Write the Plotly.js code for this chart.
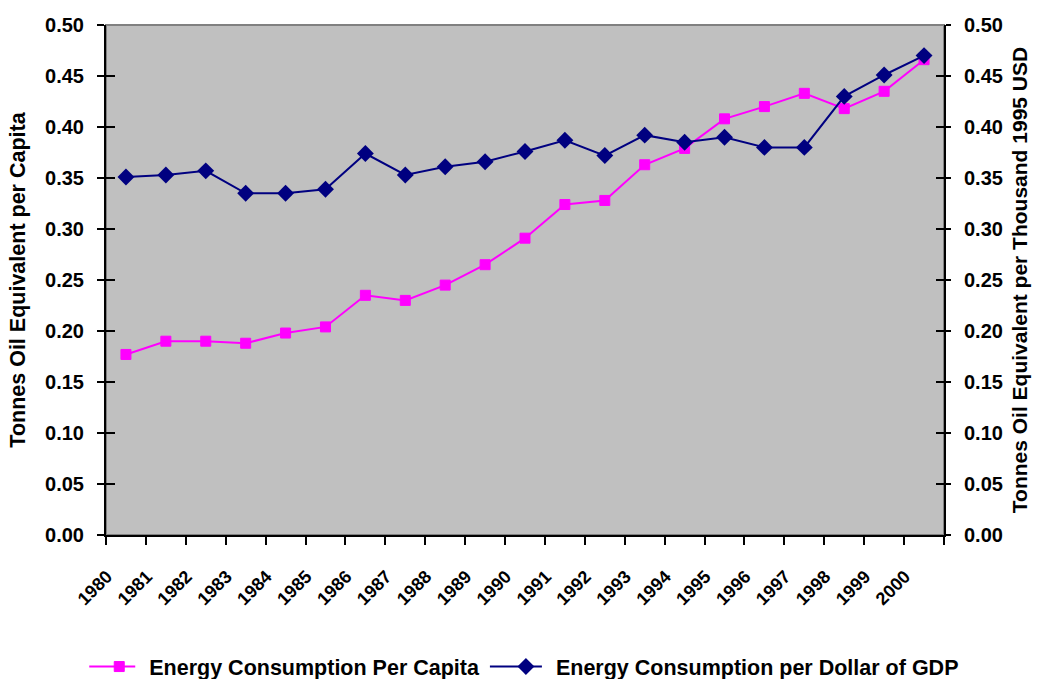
<!DOCTYPE html>
<html>
<head>
<meta charset="utf-8">
<script src="https://cdn.plot.ly/plotly-3.0.1.min.js"></script>
<style>html,body{margin:0;padding:0;background:#fff;}#chart{width:1042px;height:679px;}</style>
</head>
<body>
<div id="chart"></div>
<script>
const years = ["1980","1981","1982","1983","1984","1985","1986","1987","1988","1989","1990","1991","1992","1993","1994","1995","1996","1997","1998","1999","2000"];
const perCapita = [0.177,0.190,0.190,0.188,0.198,0.204,0.235,0.230,0.245,0.265,0.291,0.324,0.328,0.363,0.379,0.408,0.420,0.433,0.418,0.435,0.466];
const perGDP = [0.351,0.353,0.357,0.335,0.335,0.339,0.374,0.353,0.361,0.366,0.376,0.387,0.372,0.392,0.385,0.390,0.380,0.380,0.430,0.451,0.470];
const yTicks = [0,0.05,0.10,0.15,0.20,0.25,0.30,0.35,0.40,0.45,0.50];

const FONT = 'Liberation Sans, Arial, sans-serif';
const bold = (size) => ({family: FONT, size: size, color: '#000', weight: 'bold'});

const traces = [
  {x: years, y: perCapita, name: 'Energy Consumption Per Capita\u00a0\u00a0', type: 'scatter', mode: 'lines+markers',
   line: {color: '#FF00FF', width: 2}, marker: {symbol: 'square', size: 10, color: '#FF00FF', line: {color: '#FF00FF', width: 1}},
   xaxis: 'x', yaxis: 'y'},
  {x: years, y: perGDP, name: 'Energy Consumption per Dollar of GDP', type: 'scatter', mode: 'lines+markers',
   line: {color: '#000080', width: 2}, marker: {symbol: 'diamond', size: 13, color: '#000080'},
   xaxis: 'x', yaxis: 'y2'}
];

const yBase = {range: [0, 0.5], tickvals: yTicks, tickformat: '.2f', showgrid: false, zeroline: false,
  showline: true, linecolor: '#000', linewidth: 2, ticks: 'outside', ticklen: 7, tickwidth: 2, tickcolor: '#000',
  ticklabelstandoff: 9, tickfont: bold(20), fixedrange: true};

const layout = {
  width: 1042, height: 679,
  margin: {l: 106, r: 98, t: 25, b: 144, autoexpand: false},
  paper_bgcolor: '#ffffff', plot_bgcolor: '#C0C0C0',
  font: bold(18),
  showlegend: true,
  legend: {orientation: 'h', x: -0.02, xanchor: 'left', y: -0.258, yanchor: 'middle',
    font: bold(21.5), itemwidth: 50, traceorder: 'normal', bgcolor: 'rgba(0,0,0,0)'},
  xaxis: {type: 'category', range: [-0.5, years.length - 0.5], tickson: 'boundaries', ticks: 'outside', ticklen: 8, tickwidth: 2, tickcolor: '#000',
    showline: true, linecolor: '#000', linewidth: 2, showgrid: false, zeroline: false, tickangle: -45,
    ticklabelstandoff: 22, ticklabelshift: -19, tickfont: bold(18), fixedrange: true},
  yaxis: Object.assign({}, yBase, {side: 'left', title: {text: 'Tonnes Oil Equivalent per Capita', font: bold(21.5), standoff: 14}}),
  yaxis2: Object.assign({}, yBase, {side: 'right', overlaying: 'y', anchor: 'x', ticklen: 5, title: {text: 'Tonnes Oil Equivalent per Thousand 1995 USD', font: bold(21), standoff: 10}}),
  yaxis3: {range: [0, 0.5], tickvals: yTicks, overlaying: 'y', anchor: 'x', side: 'left', ticks: 'inside', ticklen: 9, tickwidth: 2, tickcolor: '#000', showticklabels: false, showline: false, showgrid: false, zeroline: false, fixedrange: true},
  yaxis4: {range: [0, 0.5], tickvals: yTicks, overlaying: 'y', anchor: 'x', side: 'right', ticks: 'inside', ticklen: 8, tickwidth: 2, tickcolor: '#000', showticklabels: false, showline: false, showgrid: false, zeroline: false, fixedrange: true},
  shapes: [{type: 'rect', xref: 'paper', yref: 'paper', x0: 0, x1: 1, y0: 0, y1: 1, line: {color: '#808080', width: 2}, layer: 'below'}]
};

// invisible helper traces so the cross-tick helper axes are drawn
traces.push({x: [years[0]], y: [0], xaxis: 'x', yaxis: 'y3', mode: 'markers', marker: {opacity: 0}, showlegend: false, hoverinfo: 'skip'});
traces.push({x: [years[0]], y: [0], xaxis: 'x', yaxis: 'y4', mode: 'markers', marker: {opacity: 0}, showlegend: false, hoverinfo: 'skip'});

Plotly.newPlot('chart', traces, layout, {displayModeBar: false, staticPlot: true}).then(function (gd) {
  // lengthen legend line samples to match the reference
  gd.querySelectorAll('.legend .legendlines path').forEach(function (p) { p.setAttribute('d', 'M-6,0h52'); });
});
</script>
</body>
</html>
